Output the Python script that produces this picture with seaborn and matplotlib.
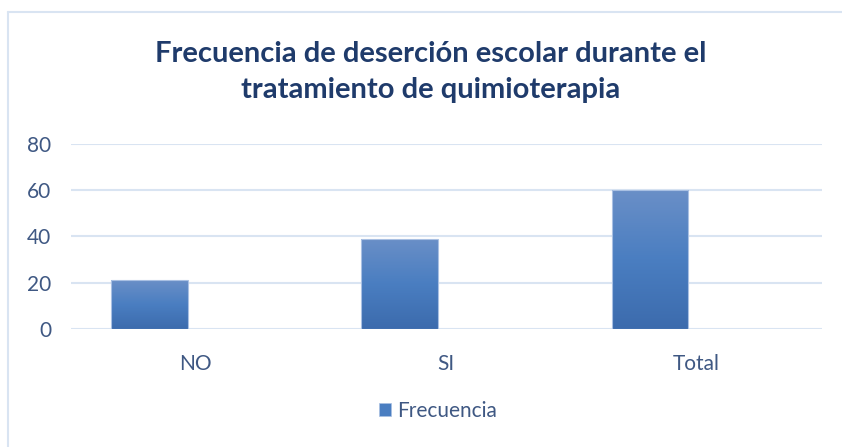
"""
Frecuencia de deserción escolar durante el tratamiento de quimioterapia.

Excel-style column chart redrawn with seaborn.
"""

import numpy as np
import pandas as pd
import matplotlib

matplotlib.use("Agg")
import matplotlib.pyplot as plt
from matplotlib.colors import LinearSegmentedColormap
from matplotlib.lines import Line2D
from matplotlib.patches import Patch
import seaborn as sns

# Data
categories = ["NO", "SI", "Total"]
frecuencia = [21, 39, 60]
series_names = ["Frecuencia", " "]
y_ticks = [0, 20, 40, 60, 80]

TITLE = "Frecuencia de deserción escolar durante el\ntratamiento de quimioterapia"
TITLE_COLOR = "#1F3B6B"
TEXT_COLOR = "#3F5883"
GRID_COLOR = "#D9E4F2"
BAR_TOP = "#6A8FC7"
BAR_MID = "#4A7EC1"
BAR_BOTTOM = "#3C6BAD"


def build_dataframe() -> pd.DataFrame:
    """Long table with the visible series and an empty companion series."""
    rows = []
    for cat, val in zip(categories, frecuencia):
        rows.append({"Categoria": cat, "Serie": series_names[0], "Valor": val})
        rows.append({"Categoria": cat, "Serie": series_names[1], "Valor": 0})
    return pd.DataFrame(rows)


def add_gradient(ax, bar) -> None:
    """Fill a bar with a vertical Excel-like gradient."""
    x0, y0 = bar.get_x(), bar.get_y()
    w, h = bar.get_width(), bar.get_height()
    if h <= 0:
        bar.set_visible(False)
        return
    cmap = LinearSegmentedColormap.from_list(
        "bar", [BAR_BOTTOM, BAR_MID, BAR_TOP]
    )
    grad = np.linspace(0, 1, 256).reshape(-1, 1)
    img = ax.imshow(
        grad, cmap=cmap, origin="lower", aspect="auto",
        extent=(x0, x0 + w, y0, y0 + h), zorder=2
    )
    img.set_clip_path(bar)
    bar.set_facecolor("none")
    bar.set_edgecolor("#A9C0E3")
    bar.set_linewidth(0.8)
    bar.set_zorder(3)


def main() -> None:
    sns.set_theme(style="white")
    plt.rcParams["font.family"] = ["Lato", "DejaVu Sans"]

    df = build_dataframe()

    fig = plt.figure(figsize=(8.42, 4.47), dpi=100)
    ax = fig.add_axes([0.084, 0.264, 0.892, 0.414])

    sns.barplot(
        data=df, x="Categoria", y="Valor", hue="Serie",
        order=categories, hue_order=series_names,
        palette=[BAR_MID, BAR_MID], width=0.744, gap=0.175,
        legend=False, ax=ax, zorder=3
    )

    xlim = ax.get_xlim()
    for bar in list(ax.patches):
        add_gradient(ax, bar)
    ax.set_xlim(xlim)

    ax.set_ylim(0, 80)
    ax.set_yticks(y_ticks)
    ax.yaxis.grid(True, color=GRID_COLOR, linewidth=1.5, zorder=0)
    ax.set_axisbelow(True)
    for spine in ax.spines.values():
        spine.set_visible(False)

    ax.set_xlabel("")
    ax.set_ylabel("")
    ax.tick_params(axis="y", length=0, pad=14, labelsize=15,
                   labelcolor=TEXT_COLOR)
    ax.tick_params(axis="x", length=0, pad=18, labelsize=15,
                   labelcolor=TEXT_COLOR)

    fig.text(0.511, 1 - 72 / 447, TITLE, ha="center", va="center",
             fontsize=21, fontweight="bold", color=TITLE_COLOR,
             linespacing=1.45)

    handle = Patch(facecolor=BAR_MID, edgecolor="#A9C0E3", linewidth=0.5)
    fig.legend(
        [handle], [series_names[0]], loc="center",
        bbox_to_anchor=(0.52, 1 - 411 / 447), frameon=False,
        fontsize=15, labelcolor=TEXT_COLOR, handlelength=0.6,
        handleheight=0.6, handletextpad=0.3
    )

    # Chart area border (only top and left edges remain in view)
    fig.add_artist(Line2D([8 / 842, 8 / 842], [0, 1 - 12 / 447],
                          color=GRID_COLOR, linewidth=1.5))
    fig.add_artist(Line2D([8 / 842, 1], [1 - 12 / 447, 1 - 12 / 447],
                          color=GRID_COLOR, linewidth=1.5))

    fig.savefig("out.png", dpi=100, facecolor="white")


if __name__ == "__main__":
    main()
